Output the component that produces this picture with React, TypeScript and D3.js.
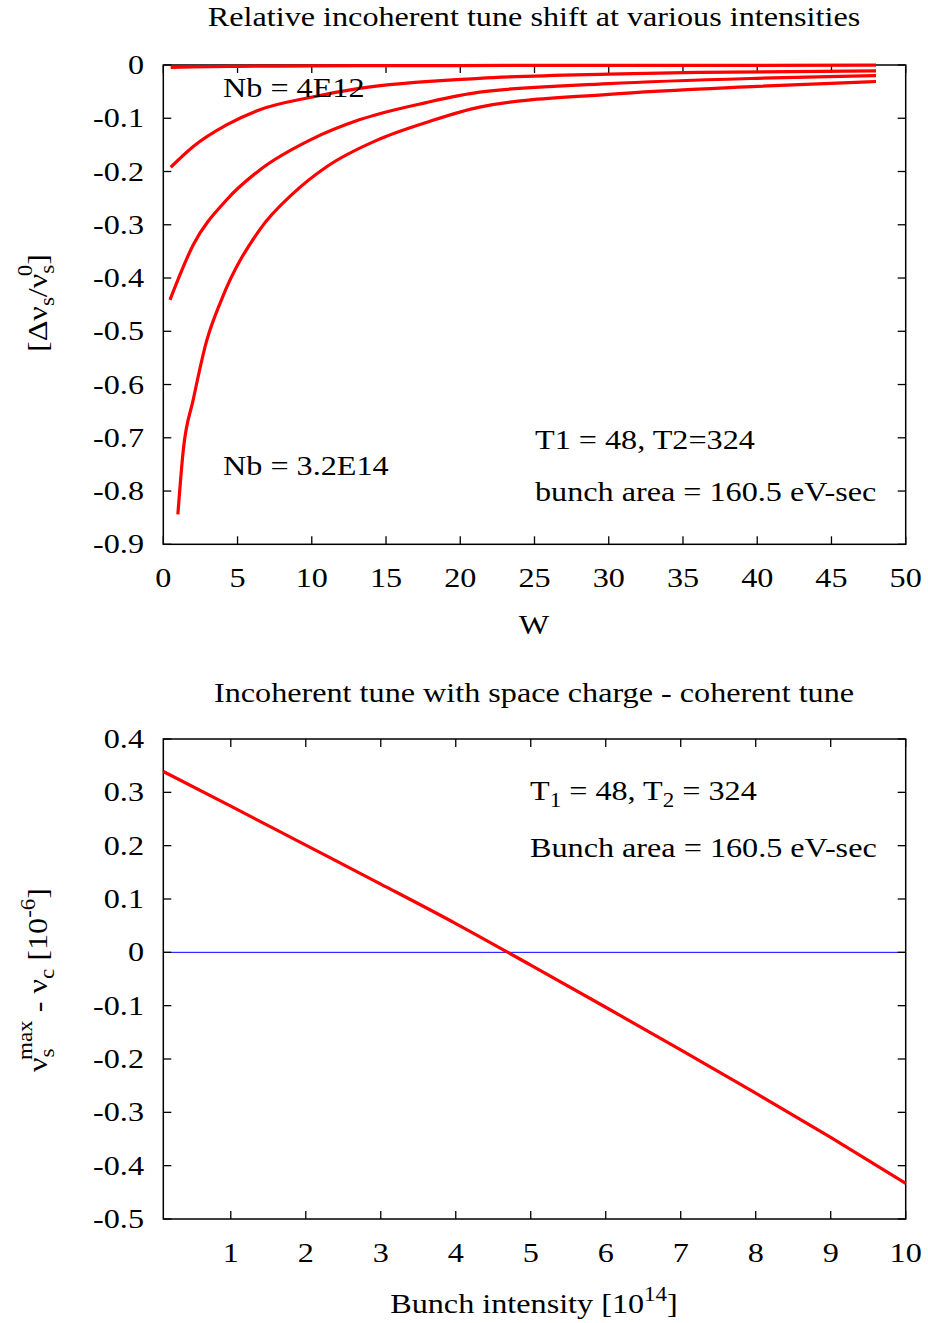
import React from "react";
import * as d3 from "d3";

// ---------- Data: top chart (relative incoherent tune shift vs W) ----------
const curveNb4E12: [number, number][] = [
  [0.5, -0.0045], [2, -0.0035], [5, -0.0025], [10, -0.0017], [20, -0.001], [30, -0.0007], [48, -0.0004],
];
const curveMid1: [number, number][] = [
  [0.5, -0.192], [2.02, -0.153], [4.26, -0.1125], [6.5, -0.084], [9.87, -0.061], [13.2, -0.044],
  [21.3, -0.025], [30, -0.017], [36, -0.014], [48, -0.011],
];
const curveMid2: [number, number][] = [
  [0.45, -0.441], [2.02, -0.3375], [4.27, -0.253], [6.5, -0.197], [9.87, -0.141], [13.2, -0.103],
  [17.7, -0.0706], [21.3, -0.051], [30, -0.035], [40, -0.025], [48, -0.02],
];
const curveNb32E14: [number, number][] = [
  [0.98, -0.844], [1.35, -0.722], [2.02, -0.628], [2.9, -0.52], [3.93, -0.44], [6.5, -0.309],
  [8.75, -0.241], [11.0, -0.191], [14.4, -0.141], [17.7, -0.108], [21.3, -0.079], [30, -0.055],
  [40, -0.04], [48, -0.031],
];
const topCurves = [curveNb4E12, curveMid1, curveMid2, curveNb32E14];
const topXTicks = [0, 5, 10, 15, 20, 25, 30, 35, 40, 45, 50];
const topYTicks = [0, -0.1, -0.2, -0.3, -0.4, -0.5, -0.6, -0.7, -0.8, -0.9];

// ---------- Data: bottom chart (incoherent tune - coherent tune vs intensity) ----------
const intensity = [0.1, 1, 2, 3, 4, 5, 6, 7, 8, 9, 10];
const tuneDiff = [0.339, 0.274, 0.201, 0.128, 0.054, -0.024, -0.103, -0.183, -0.264, -0.347, -0.433];
const botXTicks = [1, 2, 3, 4, 5, 6, 7, 8, 9, 10];
const botYTicks = [0.4, 0.3, 0.2, 0.1, 0, -0.1, -0.2, -0.3, -0.4, -0.5];

const FONT = "'Liberation Serif', 'Times New Roman', serif";
const FS = 28;
const SUB = 20;
const SX = 1.15;

const L = 163.3, R = 905.7;
const TICK = 8;

function fmt(v: number) {
  if (Math.abs(v) < 1e-9) return "0";
  return String(+v.toFixed(1));
}

function T({ x, y, anchor = "start", rot = 0, children }: any) {
  return (
    <text
      transform={`translate(${x},${y}) rotate(${rot}) scale(${SX},1)`}
      textAnchor={anchor}
      fontSize={FS}
      fontFamily={FONT}
      fill="#000"
    >
      {children}
    </text>
  );
}

function Frame({ x, y, xTicks, yTicks, top, bottom, labelBaseline }: any) {
  return (
    <g>
      <rect x={L} y={top} width={R - L} height={bottom - top} fill="none" stroke="#000" strokeWidth={1.5} />
      {xTicks.map((t: number) => (
        <g key={"x" + t}>
          <line x1={x(t)} x2={x(t)} y1={bottom} y2={bottom - TICK} stroke="#000" strokeWidth={1.3} />
          <line x1={x(t)} x2={x(t)} y1={top} y2={top + TICK} stroke="#000" strokeWidth={1.3} />
          <T x={x(t)} y={labelBaseline} anchor="middle">{String(t)}</T>
        </g>
      ))}
      {yTicks.map((t: number) => (
        <g key={"y" + t}>
          <line x1={L} x2={L + TICK} y1={y(t)} y2={y(t)} stroke="#000" strokeWidth={1.3} />
          <line x1={R} x2={R - TICK} y1={y(t)} y2={y(t)} stroke="#000" strokeWidth={1.3} />
          <T x={144} y={y(t) + 9} anchor="end">{fmt(t)}</T>
        </g>
      ))}
    </g>
  );
}

export default function App() {
  // top chart
  const tTop = 65, tBot = 544.3;
  const xT = d3.scaleLinear().domain([0, 50]).range([L, R]);
  const yT = d3.scaleLinear().domain([-0.9, 0]).range([tBot, tTop]);
  const lineT = d3.line<[number, number]>().x((d) => xT(d[0])).y((d) => yT(d[1])).curve(d3.curveMonotoneX);

  // bottom chart
  const bTop = 739, bBot = 1219;
  const xB = d3.scaleLinear().domain([0.1, 10]).range([L, R]);
  const yB = d3.scaleLinear().domain([-0.5, 0.4]).range([bBot, bTop]);
  const pts: [number, number][] = intensity.map((v, i) => [v, tuneDiff[i]]);
  const lineB = d3.line<[number, number]>().x((d) => xB(d[0])).y((d) => yB(d[1])).curve(d3.curveMonotoneX);

  return (
    <svg width={928} height={1323} style={{ position: "absolute", left: 0, top: 0, background: "#fff" }}>
      <rect x={0} y={0} width={928} height={1323} fill="#fff" />
      <defs>
        <clipPath id="clipTop"><rect x={L} y={tTop - 2} width={R - L} height={tBot - tTop + 2} /></clipPath>
      </defs>
      {/* ---------- Top chart ---------- */}
      <T x={534} y={26} anchor="middle">Relative incoherent tune shift at various intensities</T>
      <Frame x={xT} y={yT} xTicks={topXTicks} yTicks={topYTicks} top={tTop} bottom={tBot} labelBaseline={587} />
      <T x={534} y={634} anchor="middle">W</T>
      <T x={47} y={303} anchor="middle" rot={-90}>
        [Δν<tspan fontSize={SUB} dy={7}>s</tspan><tspan dy={-7}>/ν</tspan>
        <tspan fontSize={SUB} dy={7}>s</tspan>
        <tspan fontSize={SUB} dx={-10} dy={-22}>0</tspan>
        <tspan dy={15}>]</tspan>
      </T>
      <g clipPath="url(#clipTop)">
        {topCurves.map((c, i) => (
          <path key={i} d={lineT(c) || ""} fill="none" stroke="#ff0000" strokeWidth={3.2} />
        ))}
      </g>
      <T x={223} y={97}>Nb = 4E12</T>
      <T x={223} y={475}>Nb = 3.2E14</T>
      <T x={535} y={449}>T1 = 48, T2=324</T>
      <T x={535} y={501}>bunch area = 160.5 eV-sec</T>

      {/* ---------- Bottom chart ---------- */}
      <T x={534} y={702} anchor="middle">Incoherent tune with space charge - coherent tune</T>
      <line x1={L} x2={R} y1={yB(0)} y2={yB(0)} stroke="#0000ff" strokeWidth={1} />
      <Frame x={xB} y={yB} xTicks={botXTicks} yTicks={botYTicks} top={bTop} bottom={bBot} labelBaseline={1262} />
      <path d={lineB(pts) || ""} fill="none" stroke="#ff0000" strokeWidth={3.2} />
      <T x={534} y={1313} anchor="middle">
        Bunch intensity [10<tspan fontSize={SUB} dy={-12}>14</tspan><tspan dy={12}>]</tspan>
      </T>
      <T x={47} y={980} anchor="middle" rot={-90}>
        ν<tspan fontSize={SUB} dy={7}>s</tspan>
        <tspan fontSize={SUB} dx={-10} dy={-22}>max</tspan>
        <tspan dy={15}> - ν</tspan><tspan fontSize={SUB} dy={7}>c</tspan>
        <tspan dy={-7}> [10</tspan><tspan fontSize={SUB} dy={-12}>-6</tspan><tspan dy={12}>]</tspan>
      </T>
      <T x={530} y={800}>
        T<tspan fontSize={SUB} dy={7}>1</tspan><tspan dy={-7}> = 48, T</tspan>
        <tspan fontSize={SUB} dy={7}>2</tspan><tspan dy={-7}> = 324</tspan>
      </T>
      <T x={530} y={857}>Bunch area = 160.5 eV-sec</T>
    </svg>
  );
}
